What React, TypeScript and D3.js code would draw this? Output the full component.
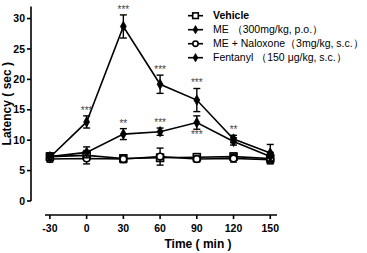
import * as d3 from 'd3'

// time points (min)
const times = [-30, 0, 30, 60, 90, 120, 150]

const vehicle = [7.3, 7.5, 7.0, 7.1, 7.2, 7.3, 7.0]
const vehicleErr = [0.6, 0.8, 0.6, 0.6, 0.6, 0.6, 0.8]
const me = [7.3, 8.0, 11.0, 11.4, 12.9, 9.8, 7.3]
const meErr = [0.6, 0.9, 0.9, 0.6, 1.1, 0.6, 0.7]
const meNal = [6.9, 7.0, 6.9, 7.3, 6.9, 7.0, 6.8]
const meNalErr = [0.5, 0.9, 0.6, 1.4, 0.5, 0.6, 0.7]
const fentanyl = [7.2, 13.0, 28.7, 19.2, 16.6, 10.2, 7.9]
const fentanylErr = [0.5, 1.0, 1.9, 1.5, 1.9, 0.6, 1.4]

const yTicks = [0, 5, 10, 15, 20, 25, 30]

// significance marks: [series, index, label, above?]
const marks: [string, number, string, boolean][] = [
  ['fentanyl', 1, '***', true],
  ['fentanyl', 2, '***', true],
  ['fentanyl', 3, '***', true],
  ['fentanyl', 4, '***', true],
  ['fentanyl', 5, '**', true],
  ['me', 2, '**', true],
  ['me', 3, '***', true],
  ['me', 4, '***', false],
]

const legendLabels = [
  'Vehicle',
  'ME （300mg/kg, p.o.）',
  'ME + Naloxone（3mg/kg, s.c.）',
  'Fentanyl （150 μg/kg, s.c.）',
]

const font = 'Liberation Sans, Arial, sans-serif'

const x = d3.scaleLinear().domain([-34, 155.5]).range([45, 277])
const y = d3.scaleLinear().domain([0, 32]).range([201, 6.4])

const series = [
  { key: 'vehicle', v: vehicle, e: vehicleErr, shape: 'square', fill: 'white' },
  { key: 'meNal', v: meNal, e: meNalErr, shape: 'circle', fill: 'white' },
  { key: 'me', v: me, e: meErr, shape: 'diamond', fill: 'black' },
  { key: 'fentanyl', v: fentanyl, e: fentanylErr, shape: 'diamond', fill: 'black' },
]

const line = d3
  .line<number>()
  .x((_, i) => x(times[i]))
  .y(d => y(d))

const Marker = ({ cx, cy, shape, fill, k = 1 }: { cx: number; cy: number; shape: string; fill: string; k?: number }) => {
  if (shape === 'square')
    return <rect x={cx - 3.5 * k} y={cy - 3.5 * k} width={7 * k} height={7 * k} fill={fill} stroke="black" strokeWidth={1.6} />
  if (shape === 'circle') return <circle cx={cx} cy={cy} r={3.3 * k} fill={fill} stroke="black" strokeWidth={1.6} />
  const p = d3.symbol(d3.symbolDiamond, 30 * k * k)()
  return <path d={p ?? ''} transform={`translate(${cx},${cy})`} fill={fill} stroke="black" strokeWidth={0.8} />
}

export default function App() {
  const byKey: Record<string, { v: number[]; e: number[] }> = {
    me: { v: me, e: meErr },
    fentanyl: { v: fentanyl, e: fentanylErr },
  }
  return (
    <svg width={367} height={253} style={{ position: 'absolute', left: 0, top: 0 }} fontFamily={font}>
      <rect width={367} height={253} fill="white" />

      {/* Y axis */}
      <line x1={31} x2={31} y1={y(32)} y2={y(0)} stroke="black" strokeWidth={1.6} />
      {yTicks.map(t => (
        <g key={t}>
          <line x1={27} x2={31} y1={y(t)} y2={y(t)} stroke="black" strokeWidth={1.6} />
          <text x={25} y={y(t)} dy="0.35em" textAnchor="end" fontSize={10.5} fontWeight="bold">
            {t}
          </text>
        </g>
      ))}
      <text
        transform={`translate(11, ${(y(0) + y(32)) / 2}) rotate(-90)`}
        textAnchor="middle"
        fontSize={12}
        fontWeight="bold"
      >
        Latency ( sec )
      </text>

      {/* X axis */}
      <line x1={x(-34)} x2={x(155.5)} y1={215} y2={215} stroke="black" strokeWidth={1.6} />
      {times.map(t => (
        <g key={t}>
          <line x1={x(t)} x2={x(t)} y1={215} y2={219} stroke="black" strokeWidth={1.6} />
          <text x={x(t)} y={232} textAnchor="middle" fontSize={10.5} fontWeight="bold">
            {t}
          </text>
        </g>
      ))}
      <text x={198} y={248} textAnchor="middle" fontSize={12} fontWeight="bold">
        Time ( min )
      </text>

      {/* series */}
      {series.map(s => (
        <g key={s.key}>
          <path d={line(s.v) ?? ''} fill="none" stroke="black" strokeWidth={1.6} />
          {s.v.map((d, i) => {
            const cx = x(times[i])
            const top = y(d + s.e[i])
            const bot = y(d - s.e[i])
            return (
              <g key={i}>
                <line x1={cx} x2={cx} y1={top} y2={bot} stroke="black" strokeWidth={1.4} />
                <line x1={cx - 3.5} x2={cx + 3.5} y1={top} y2={top} stroke="black" strokeWidth={1.4} />
                <line x1={cx - 3.5} x2={cx + 3.5} y1={bot} y2={bot} stroke="black" strokeWidth={1.4} />
                <Marker cx={cx} cy={y(d)} shape={s.shape} fill={s.fill} />
              </g>
            )
          })}
        </g>
      ))}

      {/* significance */}
      {marks.map(([k, i, lbl, above], j) => {
        const s = byKey[k]
        const cx = x(times[i])
        const yy = above ? y(s.v[i] + s.e[i]) - 2 : y(s.v[i] - s.e[i]) + 8.5
        return (
          <text key={j} x={cx} y={yy} textAnchor="middle" fontSize={10} fill="#444">
            {lbl}
          </text>
        )
      })}

      {/* legend */}
      {legendLabels.map((lbl, i) => {
        const ly = 15.7 + i * 14
        const s = [series[0], series[2], series[1], series[3]][i]
        return (
          <g key={lbl}>
            <line x1={188} x2={203} y1={ly} y2={ly} stroke="black" strokeWidth={1.6} />
            <Marker cx={195.5} cy={ly} shape={s.shape} fill={s.fill} k={0.8} />
            <text x={213} y={ly} dy="0.35em" fontSize={10.5} fontWeight={i === 0 ? 'bold' : 'normal'}>
              {lbl}
            </text>
          </g>
        )
      })}
    </svg>
  )
}
